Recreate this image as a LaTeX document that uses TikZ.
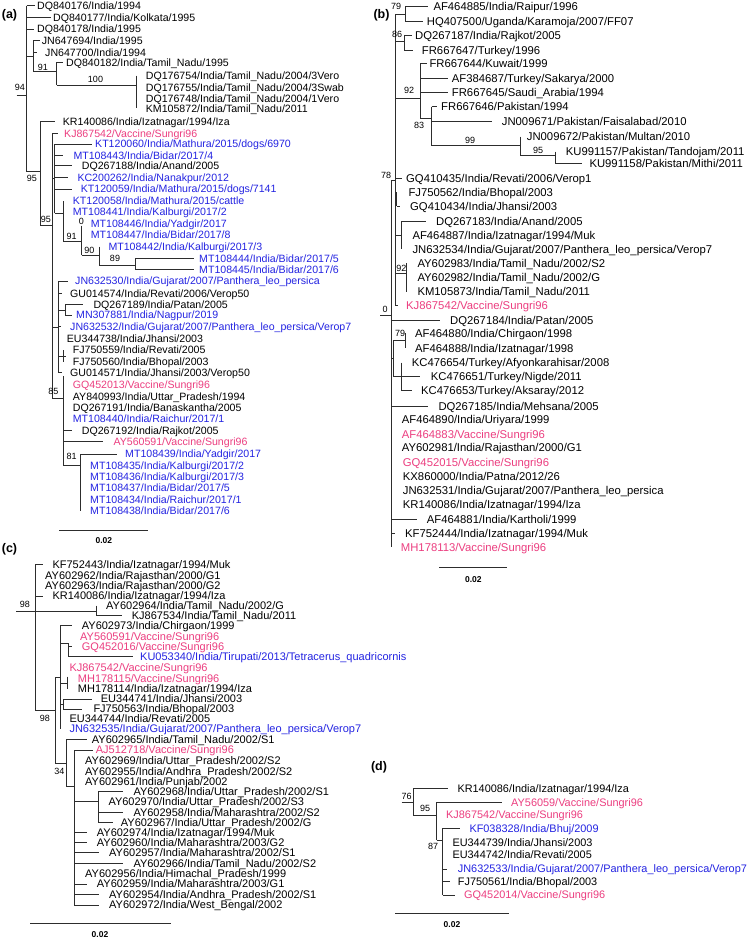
\documentclass[tikz,border=0pt]{standalone}
\usepackage{fontspec}
\setmainfont{Liberation Sans}
\definecolor{vpink}{RGB}{236,62,128}
\definecolor{vblue}{RGB}{36,36,226}
\definecolor{brc}{RGB}{45,45,45}
\tikzset{
 lnk/.style={draw=brc,line width=0.75pt},
 lfa/.style={anchor=west,inner sep=0pt,font=\fontsize{10.6}{10.6}\selectfont,text height=7.6pt,text depth=0pt},
 lfb/.style={anchor=west,inner sep=0pt,font=\fontsize{11.3}{11.3}\selectfont,text height=8.1pt,text depth=0pt},
 lfc/.style={anchor=west,inner sep=0pt,font=\fontsize{11}{11}\selectfont,text height=7.9pt,text depth=0pt},
 lfd/.style={anchor=west,inner sep=0pt,font=\fontsize{10.9}{10.9}\selectfont,text height=7.8pt,text depth=0pt},
 pk/.style={text=vpink},
 bl/.style={text=vblue},
 bs/.style={inner sep=0pt,font=\fontsize{9}{9}\selectfont,text height=6.4pt,text depth=0pt},
 pl/.style={inner sep=0pt,font=\bfseries\fontsize{12.5}{12.5}\selectfont,text height=9pt,text depth=0pt},
 sct/.style={inner sep=0pt,font=\bfseries\fontsize{8.5}{8.5}\selectfont,text height=6.1pt,text depth=0pt}
}
\begin{document}
\begin{tikzpicture}[x=1pt,y=-1pt]
\useasboundingbox[fill=white] (0,0) rectangle (750,939);
% ================= panel (a)
\node[pl] (la) at (9.5,14) {(a)};
\draw[lnk] (16.7,95) -- (26.7,95);
\node[bs] (ba94) at (20,87.3) {94};
\draw[lnk] (26.7,5.7) -- (26.7,171.7);
\draw[lnk] (26.7,5.7) -- (35,5.7);
\node[lfa] (a1) at (37,5.7) {DQ840176/India/1994};
\draw[lnk] (26.7,17.3) -- (51,17.3);
\node[lfa] (a2) at (53,17.3) {DQ840177/India/Kolkata/1995};
\draw[lnk] (26.7,29) -- (34,29);
\node[lfa] (a3) at (37,29) {DQ840178/India/1995};
\draw[lnk] (26.7,56) -- (33.3,56) (33.3,40.7) -- (33.3,71.7);
\draw[lnk] (33.3,40.7) -- (40,40.7);
\node[lfa] (a4) at (41.7,40.7) {JN647694/India/1995};
\draw[lnk] (33.3,52.3) -- (36.7,52.3);
\node[lfa] (a5) at (45,52.3) {JN647700/India/1994};
\draw[lnk] (33.3,71.7) -- (56.7,71.7) (56.7,62.3) -- (56.7,85);
\node[bs] (ba91) at (43,67.5) {91};
\draw[lnk] (56.7,62.3) -- (63,62.3);
\node[lfa] (a6) at (66,62.3) {DQ840182/India/Tamil\_Nadu/1995};
\draw[lnk] (56.7,85) -- (136.7,85) (136.7,75.7) -- (136.7,108.3);
\node[bs] (ba100) at (95.5,79) {100};
\node[lfa] (a7) at (145.7,75.7) {DQ176754/India/Tamil\_Nadu/2004/3Vero};
\node[lfa] (a8) at (145.7,87.3) {DQ176755/India/Tamil\_Nadu/2004/3Swab};
\node[lfa] (a9) at (145.7,98.3) {DQ176748/India/Tamil\_Nadu/2004/1Vero};
\node[lfa] (a10) at (145.7,108.3) {KM105872/India/Tamil\_Nadu/2011};
\draw[lnk] (26.7,171.7) -- (40,171.7) (40,121.7) -- (40,225);
\node[bs] (ba95a) at (32,178.3) {95};
\draw[lnk] (40,121.7) -- (55,121.7);
\node[lfa] (a11) at (62.7,121.7) {KR140086/India/Izatnagar/1994/Iza};
\draw[lnk] (40,225) -- (52,225) (52,133.3) -- (52,398);
\node[bs] (ba95b) at (45.8,219.5) {95};
\draw[lnk] (52,133.3) -- (58,133.3);
\node[lfa,pk] (a12) at (64,133.3) {KJ867542/Vaccine/Sungri96};
\draw[lnk] (52,178) -- (54.5,178) (54.5,144) -- (54.5,213.3);
\draw[lnk] (54.5,144) -- (91.7,144);
\node[lfa,bl] (a13) at (95,144) {KT120060/India/Mathura/2015/dogs/6970};
\draw[lnk] (54.5,155.7) -- (63.3,155.7);
\node[lfa,bl] (a14) at (73.3,155.7) {MT108443/India/Bidar/2017/4};
\draw[lnk] (54.5,165.7) -- (71.7,165.7);
\node[lfa] (a15) at (81.7,165.7) {DQ267188/India/Anand/2005};
\draw[lnk] (54.5,177.7) -- (68.3,177.7);
\node[lfa,bl] (a16) at (77.3,177.7) {KC200262/India/Nanakpur/2012};
\draw[lnk] (54.5,189) -- (71.7,189);
\node[lfa,bl] (a17) at (80.7,189) {KT120059/India/Mathura/2015/dogs/7141};
\draw[lnk] (54.5,213.3) -- (63.3,213.3) (63.3,201) -- (63.3,241.7);
\node[lfa,bl] (a18) at (72.7,201) {KT120058/India/Mathura/2015/cattle};
\node[lfa,bl] (a19) at (72.7,211.7) {MT108441/India/Kalburgi/2017/2};
\draw[lnk] (63.3,241.7) -- (81.7,241.7) (81.7,225.5) -- (81.7,255);
\node[bs] (ba91b) at (71.7,236) {91};
\node[bs] (ba0) at (81.5,221) {0};
\node[lfa,bl] (a20) at (90.7,223.3) {MT108446/India/Yadgir/2017};
\node[lfa,bl] (a21) at (90.7,235) {MT108447/India/Bidar/2017/8};
\draw[lnk] (81.7,255) -- (99.3,255) (99.3,246.7) -- (99.3,265);
\node[bs] (ba90) at (89.3,250) {90};
\node[lfa,bl] (a22) at (108.3,246.7) {MT108442/India/Kalburgi/2017/3};
\draw[lnk] (99.3,265) -- (135,265) (135,258.3) -- (135,269.3);
\node[bs] (ba89) at (115,258.3) {89};
\draw[lnk] (135,258.3) -- (194,258.3) (135,269.3) -- (194,269.3);
\node[lfa,bl] (a23) at (199,258.3) {MT108444/India/Bidar/2017/5};
\node[lfa,bl] (a24) at (199,269.3) {MT108445/India/Bidar/2017/6};
\draw[lnk] (52,327) -- (58,327) (58,281) -- (58,372.7);
\draw[lnk] (58,281) -- (68.3,281);
\node[lfa,bl] (a25) at (75,281) {JN632530/India/Gujarat/2007/Panthera\_leo\_persica};
\draw[lnk] (58,293.3) -- (61.7,293.3);
\node[lfa] (a26) at (70,293.3) {GU014574/India/Revati/2006/Verop50};
\draw[lnk] (58,310) -- (65,310) (65,304.7) -- (65,315);
\draw[lnk] (65,304.7) -- (83.3,304.7);
\node[lfa] (a27) at (93.3,304.7) {DQ267189/India/Patan/2005};
\draw[lnk] (65,315) -- (71.7,315);
\node[lfa,bl] (a28) at (76,315) {MN307881/India/Nagpur/2019};
\draw[lnk] (58,326.7) -- (61,326.7);
\node[lfa,bl] (a29) at (70,326.7) {JN632532/India/Gujarat/2007/Panthera\_leo\_persica/Verop7};
\node[lfa] (a30) at (66.7,338.3) {EU344738/India/Jhansi/2003};
\draw[lnk] (58,356) -- (63.3,356) (63.3,350) -- (63.3,361.7);
\draw[lnk] (63.3,356) -- (66,356);
\node[lfa] (a31) at (72.7,350) {FJ750559/India/Revati/2005};
\node[lfa] (a32) at (72.7,361.7) {FJ750560/India/Bhopal/2003};
\draw[lnk] (58,372.7) -- (61.7,372.7);
\node[lfa] (a33) at (70,372.7) {GU014571/India/Jhansi/2003/Verop50};
\draw[lnk] (52,398) -- (63.3,398) (63.3,376) -- (63.3,465);
\node[bs] (ba85) at (53.3,391.5) {85};
\node[lfa,pk] (a34) at (72.7,384.3) {GQ452013/Vaccine/Sungri96};
\node[lfa] (a35) at (72.7,396.7) {AY840993/India/Uttar\_Pradesh/1994};
\node[lfa] (a36) at (72.7,407.7) {DQ267191/India/Banaskantha/2005};
\node[lfa,bl] (a37) at (72.7,419) {MT108440/India/Raichur/2017/1};
\draw[lnk] (63.3,430.7) -- (71.7,430.7);
\node[lfa] (a38) at (81.7,430.7) {DQ267192/India/Rajkot/2005};
\draw[lnk] (63.3,441.7) -- (103.3,441.7);
\node[lfa,pk] (a39) at (113.3,441.7) {AY560591/Vaccine/Sungri96};
\draw[lnk] (63.3,465) -- (80,465) (80,454) -- (80,511);
\node[bs] (ba81) at (71.7,456) {81};
\draw[lnk] (80,454) -- (116.7,454);
\node[lfa,bl] (a40) at (125,454) {MT108439/India/Yadgir/2017};
\node[lfa,bl] (a41) at (90,466) {MT108435/India/Kalburgi/2017/2};
\node[lfa,bl] (a42) at (90,476.7) {MT108436/India/Kalburgi/2017/3};
\node[lfa,bl] (a43) at (90,487.3) {MT108437/India/Bidar/2017/5};
\node[lfa,bl] (a44) at (90,499.3) {MT108434/India/Raichur/2017/1};
\node[lfa,bl] (a45) at (90,511) {MT108438/India/Bidar/2017/6};
\draw[lnk] (59.3,530) -- (148.3,530);
\node[sct] (sa) at (103.8,540.5) {0.02};
% ================= panel (b)
\node[pl] (lb) at (381.5,14) {(b)};
\draw[lnk] (395,14.3) -- (405,14.3) (405,6.7) -- (405,21.7);
\node[bs] (bb79) at (396,6.5) {79};
\draw[lnk] (405,6.7) -- (428,6.7);
\node[lfb] (b1) at (433.3,6.7) {AF464885/India/Raipur/1996};
\draw[lnk] (405,21.7) -- (423.3,21.7);
\node[lfb] (b2) at (426.7,21.7) {HQ407500/Uganda/Karamoja/2007/FF07};
\draw[lnk] (395,14.3) -- (395,305.7);
\draw[lnk] (395,41) -- (404,41) (404,35) -- (404,50);
\node[bs] (bb86) at (397,34.5) {86};
\draw[lnk] (404,35) -- (411.7,35);
\node[lfb] (b3) at (415,35) {DQ267187/India/Rajkot/2005};
\draw[lnk] (404,50) -- (413.3,50);
\node[lfb] (b4) at (421.7,50) {FR667647/Turkey/1996};
\draw[lnk] (395,98.3) -- (420,98.3) (420,63.3) -- (420,118.3);
\node[bs] (bb92) at (409,90.7) {92};
\draw[lnk] (420,63.3) -- (426.7,63.3);
\node[lfb] (b5) at (429.3,63.3) {FR667644/Kuwait/1999};
\draw[lnk] (420,78.3) -- (448.3,78.3);
\node[lfb] (b6) at (451.7,78.3) {AF384687/Turkey/Sakarya/2000};
\draw[lnk] (420,92.3) -- (448.3,92.3);
\node[lfb] (b7) at (451.7,92.3) {FR667645/Saudi\_Arabia/1994};
\draw[lnk] (420,118.3) -- (431.7,118.3) (431.7,106.7) -- (431.7,145.7);
\node[bs] (bb83) at (419,125) {83};
\draw[lnk] (431.7,106.7) -- (436.7,106.7);
\node[lfb] (b8) at (441,106.7) {FR667646/Pakistan/1994};
\draw[lnk] (431.7,121) -- (491.7,121);
\node[lfb] (b9) at (501.7,121) {JN009671/Pakistan/Faisalabad/2010};
\draw[lnk] (431.7,145.7) -- (520,145.7) (520,136.7) -- (520,155);
\node[bs] (bb99) at (470,140.5) {99};
\node[lfb] (b10) at (526.7,136.7) {JN009672/Pakistan/Multan/2010};
\draw[lnk] (520,155) -- (555,155) (555,151.7) -- (555,163.3);
\node[bs] (bb95) at (538,150.5) {95};
\node[lfb] (b11) at (565.7,151.7) {KU991157/Pakistan/Tandojam/2011};
\draw[lnk] (555,163.3) -- (581.7,163.3);
\node[lfb] (b12) at (589.3,163.3) {KU991158/Pakistan/Mithi/2011};
\draw[lnk] (391.7,180) -- (395,180);
\node[bs] (bb78) at (386,175) {78};
\draw[lnk] (395,178.3) -- (402,178.3);
\node[lfb] (b13) at (406,178.3) {GQ410435/India/Revati/2006/Verop1};
\draw[lnk] (395,199) -- (396.7,199) (396.7,192.3) -- (396.7,206) (396.7,206) -- (400,206);
\node[lfb] (b14) at (408.3,192.3) {FJ750562/India/Bhopal/2003};
\node[lfb] (b15) at (410,206) {GQ410434/India/Jhansi/2003};
\draw[lnk] (395,235) -- (401.7,235) (401.7,221) -- (401.7,249);
\draw[lnk] (401.7,221) -- (426,221);
\node[lfb] (b16) at (436,221) {DQ267183/India/Anand/2005};
\node[lfb] (b17) at (412.3,235) {AF464887/India/Izatnagar/1994/Muk};
\node[lfb] (b18) at (412.3,249) {JN632534/India/Gujarat/2007/Panthera\_leo\_persica/Verop7};
\draw[lnk] (395,273.3) -- (406.7,273.3) (406.7,263.3) -- (406.7,291.7);
\node[bs] (bb92b) at (401.3,268) {92};
\node[lfb] (b19) at (417.3,263.3) {AY602983/India/Tamil\_Nadu/2002/S2};
\node[lfb] (b20) at (417.3,277.7) {AY602982/India/Tamil\_Nadu/2002/G};
\node[lfb] (b21) at (417.3,291.7) {KM105873/India/Tamil\_Nadu/2011};
\draw[lnk] (395,305.7) -- (398,305.7);
\node[lfb,pk] (b22) at (406,305.7) {KJ867542/Vaccine/Sungri96};
\draw[lnk] (380,315) -- (391.7,315);
\node[bs] (bb0) at (385,309.5) {0};
\draw[lnk] (391.7,180) -- (391.7,546.7);
\draw[lnk] (391.7,320) -- (440,320);
\node[lfb] (b23) at (450,320) {DQ267184/India/Patan/2005};
\draw[lnk] (391.7,358) -- (393.3,358) (393.3,340) -- (393.3,376.7);
\draw[lnk] (393.3,340) -- (405,340) (405,333.3) -- (405,348.3);
\node[bs] (bb79b) at (400,333) {79};
\node[lfb] (b24) at (415,333.3) {AF464880/India/Chirgaon/1998};
\node[lfb] (b25) at (415,348.3) {AF464888/India/Izatnagar/1998};
\draw[lnk] (393.3,376.7) -- (401.7,376.7) (401.7,362.7) -- (401.7,390.7);
\node[lfb] (b26) at (411.7,362.7) {KC476654/Turkey/Afyonkarahisar/2008};
\draw[lnk] (401.7,376.7) -- (420,376.7);
\node[lfb] (b27) at (430.7,376.7) {KC476651/Turkey/Nigde/2011};
\draw[lnk] (401.7,390.7) -- (411.7,390.7);
\node[lfb] (b28) at (421,390.7) {KC476653/Turkey/Aksaray/2012};
\draw[lnk] (391.7,406) -- (428.3,406);
\node[lfb] (b29) at (438.3,406) {DQ267185/India/Mehsana/2005};
\node[lfb] (b30) at (401.7,419.3) {AF464890/India/Uriyara/1999};
\node[lfb,pk] (b31) at (401.7,434.3) {AF464883/Vaccine/Sungri96};
\node[lfb] (b32) at (401.7,447.7) {AY602981/India/Rajasthan/2000/G1};
\node[lfb,pk] (b33) at (402.7,462.3) {GQ452015/Vaccine/Sungri96};
\node[lfb] (b34) at (402.7,476) {KX860000/India/Patna/2012/26};
\node[lfb] (b35) at (402.7,490.7) {JN632531/India/Gujarat/2007/Panthera\_leo\_persica};
\node[lfb] (b36) at (402.7,504.3) {KR140086/India/Izatnagar/1994/Iza};
\draw[lnk] (391.7,519.3) -- (416.7,519.3);
\node[lfb] (b37) at (426.7,519.3) {AF464881/India/Kartholi/1999};
\draw[lnk] (391.7,533.3) -- (395,533.3);
\node[lfb] (b38) at (405,533.3) {KF752444/India/Izatnagar/1994/Muk};
\node[lfb,pk] (b39) at (400.7,547.7) {MH178113/Vaccine/Sungri96};
\draw[lnk] (439.3,567.7) -- (507.3,567.7);
\node[sct] (sb) at (473.3,579.3) {0.02};
% ================= panel (c)
\node[pl] (lc) at (9.5,548) {(c)};
\draw[lnk] (16,611.7) -- (35,611.7);
\node[bs] (bc98) at (25,604.3) {98};
\draw[lnk] (35,564.3) -- (35,710);
\draw[lnk] (35,564.3) -- (43.3,564.3);
\node[lfc] (c1) at (52.3,564.3) {KF752443/India/Izatnagar/1994/Muk};
\node[lfc] (c2) at (45,575.7) {AY602962/India/Rajasthan/2000/G1};
\node[lfc] (c3) at (45,585.7) {AY602963/India/Rajasthan/2000/G2};
\draw[lnk] (35,596) -- (43.3,596);
\node[lfc] (c4) at (52.3,596) {KR140086/India/Izatnagar/1994/Iza};
\draw[lnk] (35,611.7) -- (96.7,611.7) (96.7,605.7) -- (96.7,615.7);
\node[lfc] (c5) at (106,605.7) {AY602964/India/Tamil\_Nadu/2002/G};
\draw[lnk] (96.7,615.7) -- (121.7,615.7);
\node[lfc] (c6) at (131.7,615.7) {KJ867534/India/Tamil\_Nadu/2011};
\draw[lnk] (35,710) -- (55,710) (55,677) -- (55,763);
\node[bs] (bc98b) at (45,718.3) {98};
\draw[lnk] (55,677) -- (60,677) (60,625.7) -- (60,729);
\draw[lnk] (60,625.7) -- (71.7,625.7);
\node[lfc] (c7) at (81.7,625.7) {AY602973/India/Chirgaon/1999};
\node[lfc,pk] (c8) at (80,636.7) {AY560591/Vaccine/Sungri96};
\draw[lnk] (60,643.3) -- (68.3,643.3) (68.3,643.3) -- (68.3,656.7);
\draw[lnk] (68.3,646.7) -- (71.7,646.7);
\node[lfc,pk] (c9) at (81.7,646.7) {GQ452016/Vaccine/Sungri96};
\draw[lnk] (68.3,656.7) -- (133.3,656.7);
\node[lfc,bl] (c10) at (140,656.7) {KU053340/India/Tirupati/2013/Tetracerus\_quadricornis};
\node[lfc,pk] (c11) at (69.3,667.3) {KJ867542/Vaccine/Sungri96};
\draw[lnk] (60,683) -- (67.7,683) (67.7,676.7) -- (67.7,689);
\node[lfc,pk] (c12) at (77.7,678.3) {MH178115/Vaccine/Sungri96};
\node[lfc] (c13) at (77.7,689) {MH178114/India/Izatnagar/1994/Iza};
\draw[lnk] (60,704) -- (63.3,704) (63.3,699) -- (63.3,709);
\draw[lnk] (63.3,699) -- (91.7,699);
\node[lfc] (c14) at (100.7,699) {EU344741/India/Jhansi/2003};
\draw[lnk] (63.3,709) -- (81.7,709);
\node[lfc] (c15) at (93.3,709) {FJ750563/India/Bhopal/2003};
\node[lfc] (c16) at (69.3,719) {EU344744/India/Revati/2005};
\node[lfc,bl] (c17) at (69.3,729) {JN632535/India/Gujarat/2007/Panthera\_leo\_persica/Verop7};
\draw[lnk] (55,763) -- (66.7,763) (66.7,739.3) -- (66.7,786.7);
\node[bs] (bc34) at (59.5,771.7) {34};
\draw[lnk] (66.7,739.3) -- (86.7,739.3);
\node[lfc] (c18) at (91.7,739.3) {AY602965/India/Tamil\_Nadu/2002/S1};
\draw[lnk] (66.7,786.7) -- (74,786.7) (74,750) -- (74,905);
\draw[lnk] (74,750) -- (93.3,750);
\node[lfc,pk] (c19) at (95.7,750) {AJ512718/Vaccine/Sungri96};
\node[lfc] (c20) at (85,760.7) {AY602969/India/Uttar\_Pradesh/2002/S2};
\node[lfc] (c21) at (85,771.7) {AY602955/India/Andhra\_Pradesh/2002/S2};
\node[lfc] (c22) at (85,781.7) {AY602961/India/Punjab/2002};
\draw[lnk] (74,801.7) -- (98.3,801.7) (98.3,791.7) -- (98.3,822.3);
\draw[lnk] (98.3,791.7) -- (123.3,791.7);
\node[lfc] (c23) at (133.3,791.7) {AY602968/India/Uttar\_Pradesh/2002/S1};
\node[lfc] (c24) at (108.3,801.7) {AY602970/India/Uttar\_Pradesh/2002/S3};
\draw[lnk] (98.3,812.3) -- (123.3,812.3);
\node[lfc] (c25) at (133.3,812.3) {AY602958/India/Maharashtra/2002/S2};
\draw[lnk] (98.3,822.3) -- (113.3,822.3);
\node[lfc] (c26) at (120.7,822.3) {AY602967/India/Uttar\_Pradesh/2002/G};
\draw[lnk] (74,832.7) -- (87.3,832.7);
\node[lfc] (c27) at (96.7,832.7) {AY602974/India/Izatnagar/1994/Muk};
\draw[lnk] (74,842.3) -- (87.3,842.3);
\node[lfc] (c28) at (96.7,842.3) {AY602960/India/Maharashtra/2003/G2};
\draw[lnk] (74,852.7) -- (99.3,852.7);
\node[lfc] (c29) at (109,852.7) {AY602957/India/Maharashtra/2002/S1};
\draw[lnk] (74,863.3) -- (123.3,863.3);
\node[lfc] (c30) at (133.3,863.3) {AY602966/India/Tamil\_Nadu/2002/S2};
\node[lfc] (c31) at (85,874) {AY602956/India/Himachal\_Pradesh/1999};
\draw[lnk] (74,884) -- (87.3,884);
\node[lfc] (c32) at (96.7,884) {AY602959/India/Maharashtra/2003/G1};
\draw[lnk] (74,894.3) -- (99.3,894.3);
\node[lfc] (c33) at (109,894.3) {AY602954/India/Andhra\_Pradesh/2002/S1};
\draw[lnk] (74,905) -- (99.3,905);
\node[lfc] (c34) at (109,905) {AY602972/India/West\_Bengal/2002};
\draw[lnk] (30,923.3) -- (170.7,923.3);
\node[sct] (scc) at (100,934.3) {0.02};
% ================= panel (d)
\node[pl] (ld) at (379,766) {(d)};
\draw[lnk] (401.7,802.3) -- (413.3,802.3) (413.3,788.3) -- (413.3,815);
\node[bs] (bd76) at (406.7,795.8) {76};
\draw[lnk] (413.3,788.3) -- (448.3,788.3);
\node[lfd] (d1) at (457.3,788.3) {KR140086/India/Izatnagar/1994/Iza};
\draw[lnk] (413.3,815) -- (436.7,815) (436.7,802.3) -- (436.7,840);
\node[bs] (bd95) at (425,808.3) {95};
\draw[lnk] (436.7,802.3) -- (501.7,802.3);
\node[lfd,pk] (d2) at (511,802.3) {AY56059/Vaccine/Sungri96};
\node[lfd,pk] (d3) at (446,815) {KJ867542/Vaccine/Sungri96};
\draw[lnk] (436.7,840) -- (442.7,840) (442.7,828.3) -- (442.7,895);
\node[bs] (bd87) at (433,846.7) {87};
\draw[lnk] (442.7,828.3) -- (460,828.3);
\node[lfd,bl] (d4) at (469.3,828.3) {KF038328/India/Bhuj/2009};
\node[lfd] (d5) at (452.3,842.3) {EU344739/India/Jhansi/2003};
\node[lfd] (d6) at (452.3,855) {EU344742/India/Revati/2005};
\draw[lnk] (442.7,869) -- (447,869);
\node[lfd,bl] (d7) at (457.7,869) {JN632533/India/Gujarat/2007/Panthera\_leo\_persica/Verop7};
\draw[lnk] (442.7,881.7) -- (450,881.7);
\node[lfd] (d8) at (457.7,881.7) {FJ750561/India/Bhopal/2003};
\draw[lnk] (442.7,895) -- (455,895);
\node[lfd,pk] (d9) at (464,895) {GQ452014/Vaccine/Sungri96};
\draw[lnk] (395,913.3) -- (509.3,913.3);
\node[sct] (sd) at (452,924.3) {0.02};
\end{tikzpicture}
\end{document}
